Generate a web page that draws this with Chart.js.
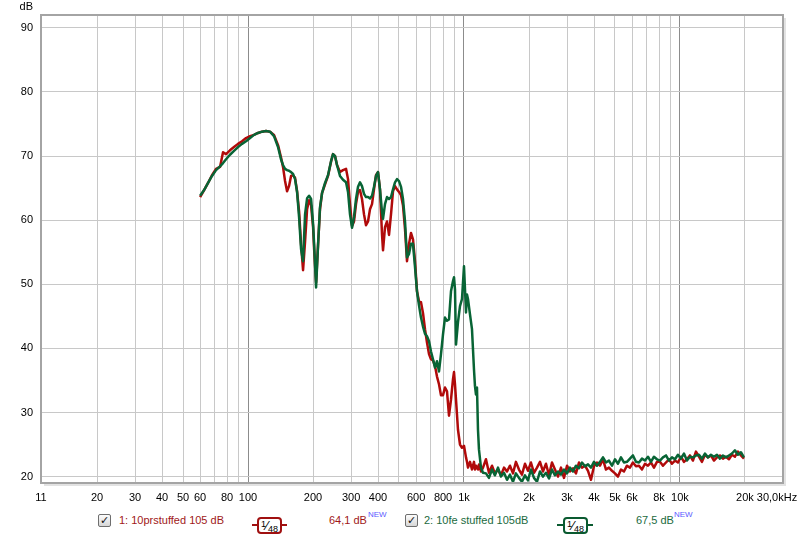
<!DOCTYPE html>
<html>
<head>
<meta charset="utf-8">
<script src="https://cdn.jsdelivr.net/npm/chart.js@4.4.1/dist/chart.umd.min.js"></script>
<style>
  body { margin: 0; background: #fff; font-family: 'Liberation Sans', Arial, sans-serif; }
  #wrap { position: relative; width: 800px; height: 536px; overflow: hidden; }
  #frChart { display: block; }
  #legend { position: absolute; left: 0; top: 506px; width: 800px; height: 30px; font-size: 11px; }
  #legend > * { position: absolute; }
  .cb { top: 8px; width: 11px; height: 11px; border: 1px solid #6e6e6e; border-radius: 2px;
        background: linear-gradient(#fdfdfd, #d6d6d6); font: bold 11px 'DejaVu Sans'; line-height: 11px;
        text-align: center; color: #111; }
  .name, .lvl { top: 8px; line-height: 13px; white-space: nowrap; }
  .new { top: 4px; font-size: 8px; color: #5a5aff; }
  .bline { top: 18px; height: 2px; }
  .badge { top: 11px; height: 13px; width: 21px; border: 2px solid; border-radius: 4px; background: #fff;
           font-size: 9px; line-height: 13px; text-align: center; color: #000; white-space: nowrap; }
  .badge b { font-weight: normal; font-size: 13px; }
  .red { color: #a01818; }
  .green { color: #1b6a3e; }
</style>
</head>
<body>
<div id="wrap">
  <canvas id="frChart" width="800" height="506"></canvas>
  <div id="legend">
    <span class="cb" style="left:98px">✓</span>
    <span class="name red" style="left:119px">1: 10prstuffed 105 dB</span>
    <span class="bline" style="left:252px;width:35px;background:#a01010"></span>
    <span class="badge" style="left:257px;border-color:#a01010"><span style="position:relative;top:-3px">1</span><b>⁄</b><span style="position:relative;top:2px">48</span></span>
    <span class="lvl red" style="left:329px">64,1 dB</span>
    <span class="new" style="left:368px">NEW</span>

    <span class="cb" style="left:405px">✓</span>
    <span class="name green" style="left:424px">2: 10fe stuffed 105dB</span>
    <span class="bline" style="left:557px;width:36px;background:#0a5a30"></span>
    <span class="badge" style="left:563px;border-color:#0a5a30"><span style="position:relative;top:-3px">1</span><b>⁄</b><span style="position:relative;top:2px">48</span></span>
    <span class="lvl green" style="left:636px">67,5 dB</span>
    <span class="new" style="left:674px">NEW</span>
  </div>
</div>
<script>
// frequency points (Hz), shared by both measurements
const freqHz = [
  60.0, 62.6, 65.3, 68.1, 71.1, 74.2, 76.6, 79.1, 82.5, 86.1, 89.9, 93.8, 97.9, 102.2, 106.6, 111.2,
  116.1, 121.2, 126.4, 131.9, 137.7, 142.1, 145.2, 148.4, 151.6, 154.8, 158.2, 161.6, 165.1, 168.7,
  172.3, 176.0, 179.8, 183.7, 187.7, 191.7, 195.9, 200.1, 202.3, 206.6, 211.1, 215.4, 220.1, 227.3,
  234.6, 242.3, 247.5, 252.8, 258.2, 266.6, 275.3, 284.3, 290.4, 296.6, 303.1, 309.6, 316.2, 323.1,
  330.0, 337.1, 344.4, 351.8, 359.4, 367.1, 375.1, 383.1, 391.4, 399.8, 408.4, 417.2, 421.7, 430.8,
  440.1, 449.6, 459.2, 469.1, 479.3, 489.6, 500.2, 510.9, 521.9, 533.2, 544.6, 556.4, 568.3, 580.6,
  593.1, 605.9, 619.0, 632.3, 646.0, 659.8, 674.1, 688.7, 703.4, 718.6, 734.0, 749.9, 766.1, 782.5,
  799.5, 816.6, 834.3, 852.3, 870.6, 889.4, 898.9, 908.5, 918.3, 938.0, 958.3, 978.8, 1000, 1021.6,
  1032.5, 1043.5, 1066.1, 1088.9, 1112.4, 1124.3, 1136.4, 1148.5, 1160.9, 1173.3, 1198.7, 1224.6,
  1264, 1305, 1348, 1391, 1437, 1483, 1532, 1582, 1633, 1686, 1740, 1797, 1855, 1916, 1978, 2042,
  2109, 2178, 2249, 2321, 2397, 2475, 2555, 2638, 2724, 2813, 2904, 2999, 3095, 3196, 3300, 3407,
  3518, 3633, 3751, 3873, 3998, 4128, 4262, 4401, 4544, 4691, 4844, 5002, 5164, 5332, 5504, 5683,
  5868, 6059, 6256, 6460, 6670, 6887, 7111, 7340, 7579, 7825, 8080, 8343, 8614, 8894, 9183, 9482,
  9788, 10106, 10435, 10775, 11124, 11485, 11859, 12246, 12644, 13052, 13477, 13914, 14367, 14834,
  15317, 15815, 16330, 16861, 17403, 17969, 18554, 19157, 19781
];

// 1: 10prstuffed 105 dB (dB SPL)
const db10prStuffed = [
  63.6, 64.7, 65.8, 67.0, 68.0, 68.3, 70.6, 70.3, 70.9, 71.4, 71.9, 72.3, 72.8, 73.1, 73.3, 73.6,
  73.8, 73.9, 73.8, 73.3, 71.7, 69.8, 68.3, 66.1, 64.5, 65.3, 66.9, 67.0, 66.6, 64.5,
  61.4, 56.3, 52.2, 56.7, 61.7, 63.1, 62.3, 58.9, 55.5, 50.3, 56.3, 61.7, 64.2, 65.6,
  66.9, 69.1, 70.3, 70.0, 68.6, 67.5, 67.8, 68.0, 66.4, 62.5, 59.1, 59.8, 62.5, 64.4,
  64.7, 63.3, 60.9, 59.2, 59.8, 61.7, 62.5, 64.8, 67.0, 67.5, 64.8, 57.8, 55.3, 58.9,
  59.8, 57.7, 60.9, 64.5, 65.3, 64.8, 64.4, 63.9, 62.3, 58.6, 53.6, 56.3, 58.0, 57.0,
  53.6, 48.9, 47.3, 47.2, 45.5, 43.0, 40.9, 39.1, 38.3, 38.1, 37.3, 35.6, 34.4, 32.7,
  32.7, 33.9, 33.3, 29.5, 32.0, 35.2, 36.3, 34.4, 32.0, 27.3, 25.0, 24.5, 24.8, 23.0,
  22.3, 21.4, 22.3, 21.1, 22.3, 21.1, 21.7, 21.4, 21.1, 21.9, 20.8, 21.4,
  22.7, 20.6, 21.7, 20.5, 21.1, 20.2, 21.4, 20.8, 21.7, 20.5, 22.3, 21.1, 20.3, 22.0, 20.9, 22.2,
  20.6, 21.4, 22.3, 20.8, 22.0, 20.2, 22.2, 21.1, 20.0, 21.4, 19.8, 21.7, 20.8, 21.3, 20.5, 22.2,
  21.4, 21.7, 20.9, 19.5, 21.6, 22.2, 21.7, 22.7, 21.1, 21.4, 20.9, 20.5, 20.0, 21.1, 20.8, 21.7,
  21.4, 22.2, 21.6, 21.7, 21.1, 22.0, 21.7, 22.2, 21.4, 22.3, 22.3, 21.7, 22.2, 22.7, 22.0, 22.5,
  22.2, 23.1, 22.3, 22.7, 23.3, 22.5, 23.9, 23.1, 22.3, 23.4, 23.0, 23.3, 22.5, 23.0,
  23.3, 22.8, 23.1, 22.7, 23.4, 23.1, 23.9, 23.3, 22.8
];

// 2: 10fe stuffed 105dB (dB SPL)
const db10feStuffed = [
  63.8, 64.7, 65.8, 66.9, 67.8, 68.4, 68.9, 69.5, 70.2, 70.8, 71.4, 71.9, 72.3, 72.8, 73.3, 73.6,
  73.8, 73.9, 73.8, 73.1, 71.4, 69.5, 68.6, 68.0, 67.8, 67.7, 67.5, 67.2, 66.4, 64.4,
  60.5, 55.5, 53.6, 60.9, 63.4, 63.8, 63.3, 59.4, 56.3, 49.5, 56.3, 62.0, 64.2, 65.8,
  67.0, 69.2, 70.3, 70.0, 68.6, 66.9, 66.3, 65.9, 64.4, 60.9, 58.8, 60.5, 63.3, 65.2,
  65.9, 65.3, 64.1, 63.6, 63.6, 63.4, 63.8, 65.2, 66.9, 67.5, 64.8, 61.3, 60.2, 62.5,
  63.6, 63.3, 63.6, 64.8, 65.9, 66.4, 66.1, 65.2, 63.3, 59.8, 54.2, 54.7, 56.3, 56.3,
  52.7, 48.9, 46.7, 44.8, 43.4, 42.3, 41.9, 41.1, 39.5, 38.3, 37.0, 38.0, 36.4, 39.1,
  42.2, 44.8, 44.3, 44.5, 48.9, 50.5, 51.1, 49.2, 40.6, 44.1, 46.6, 47.7, 52.8, 45.6,
  48.4, 47.7, 45.3, 43.0, 36.7, 34.1, 32.8, 33.9, 27.3, 24.2, 21.4, 20.6,
  20.5, 19.8, 21.1, 20.2, 21.4, 20.0, 20.6, 19.5, 20.3, 19.2, 20.5, 19.8, 19.2, 20.2, 19.4, 21.1,
  19.8, 19.2, 20.8, 20.0, 20.6, 19.7, 21.1, 20.2, 20.8, 20.3, 21.1, 20.5, 21.4, 20.8, 21.7, 21.3,
  22.2, 21.6, 21.9, 21.4, 22.3, 21.7, 22.3, 23.0, 22.2, 22.5, 21.7, 22.7, 22.0, 23.0, 22.2, 22.3,
  22.8, 23.3, 22.3, 22.2, 22.8, 22.5, 23.1, 22.3, 23.1, 22.7, 22.5, 23.0, 23.3, 22.5, 23.0, 22.7,
  23.4, 22.8, 23.6, 22.5, 23.1, 23.0, 23.3, 23.4, 22.8, 23.6, 23.0, 23.4, 23.1, 23.4,
  22.8, 23.3, 23.0, 23.3, 23.6, 24.1, 23.4, 23.8, 23.0
];

// x axis grid lines and the labelled ones
const gridHz = [11, 20, 30, 40, 50, 60, 70, 80, 90, 100, 200, 300, 400, 500, 600, 700, 800, 900,
  1000, 2000, 3000, 4000, 5000, 6000, 7000, 8000, 9000, 10000, 20000, 30000];
const labelHz = [11, 20, 30, 40, 50, 60, 80, 100, 200, 300, 400, 600, 800, 1000, 2000, 3000, 4000,
  5000, 6000, 8000, 10000, 20000, 30000];
const labelText = ['11', '20', '30', '40', '50', '60', '80', '100', '200', '300', '400', '600', '800',
  '1k', '2k', '3k', '4k', '5k', '6k', '8k', '10k', '20k', '30,0kHz'];
const dbTicks = [20, 30, 40, 50, 60, 70, 80, 90];

Chart.defaults.font.family = "'Liberation Sans', Arial, sans-serif";
Chart.defaults.font.size = 11;
Chart.defaults.color = '#000';

const toPoints = (vals) => vals.map((v, i) => ({ x: freqHz[i], y: v }));

// frame around the plot, the dB unit and the last (kHz) tick label
const framePlugin = {
  id: 'frame',
  afterDraw(chart) {
    const { ctx, chartArea: a, scales: { x } } = chart;
    ctx.save();
    ctx.strokeStyle = '#e2e2e2';
    ctx.lineWidth = 2;
    ctx.beginPath();
    ctx.moveTo(a.right + 2, a.top + 3);
    ctx.lineTo(a.right + 2, a.bottom + 2);
    ctx.lineTo(a.left + 3, a.bottom + 2);
    ctx.stroke();
    ctx.strokeStyle = '#a4a4a4';
    ctx.strokeRect(a.left, a.top, a.right - a.left, a.bottom - a.top);
    ctx.fillStyle = '#000';
    ctx.font = "11px 'Liberation Sans', Arial";
    ctx.textAlign = 'right';
    ctx.textBaseline = 'middle';
    ctx.fillText('dB', a.left - 8, 7);
    ctx.textAlign = 'center';
    ctx.fillText(labelText[labelText.length - 1], x.getPixelForValue(30000) - 6, a.bottom + 15);
    ctx.restore();
  }
};

new Chart(document.getElementById('frChart'), {
  type: 'line',
  data: {
    datasets: [{
      label: '1: 10prstuffed 105 dB',
      data: toPoints(db10prStuffed),
      borderColor: '#b00a0a',
      borderWidth: 2.5,
      borderJoinStyle: 'round',
      pointRadius: 0,
      tension: 0,
      order: 1
    }, {
      label: '2: 10fe stuffed 105dB',
      data: toPoints(db10feStuffed),
      borderColor: '#086435',
      borderWidth: 2.5,
      borderJoinStyle: 'round',
      pointRadius: 0,
      tension: 0,
      order: 0
    }]
  },
  options: {
    responsive: false,
    animation: false,
    devicePixelRatio: 1,
    layout: { padding: { top: 15, right: 17, bottom: 0, left: 0 } },
    plugins: { legend: { display: false }, tooltip: { enabled: false } },
    scales: {
      x: {
        type: 'logarithmic',
        min: 11,
        max: 30000,
        afterBuildTicks: (scale) => { scale.ticks = gridHz.map(v => ({ value: v })); },
        afterFit: (scale) => { scale.height = 23; },
        ticks: {
          autoSkip: false,
          maxRotation: 0,
          padding: 8,
          callback: (v) => {
            const i = labelHz.indexOf(v);
            return i >= 0 && i < labelHz.length - 1 ? labelText[i] : '';
          }
        },
        grid: {
          drawTicks: false,
          color: (c) => [100, 1000, 10000].includes(c.tick && c.tick.value) ? '#8c8c8c' : '#c8c8c8'
        },
        border: { display: false }
      },
      y: {
        min: 19,
        max: 92,
        afterBuildTicks: (scale) => { scale.ticks = dbTicks.map(v => ({ value: v })); },
        afterFit: (scale) => { scale.width = 41; },
        ticks: { padding: 8 },
        grid: { drawTicks: false, color: '#c8c8c8' },
        border: { display: false }
      }
    }
  },
  plugins: [framePlugin]
});
</script>
</body>
</html>
